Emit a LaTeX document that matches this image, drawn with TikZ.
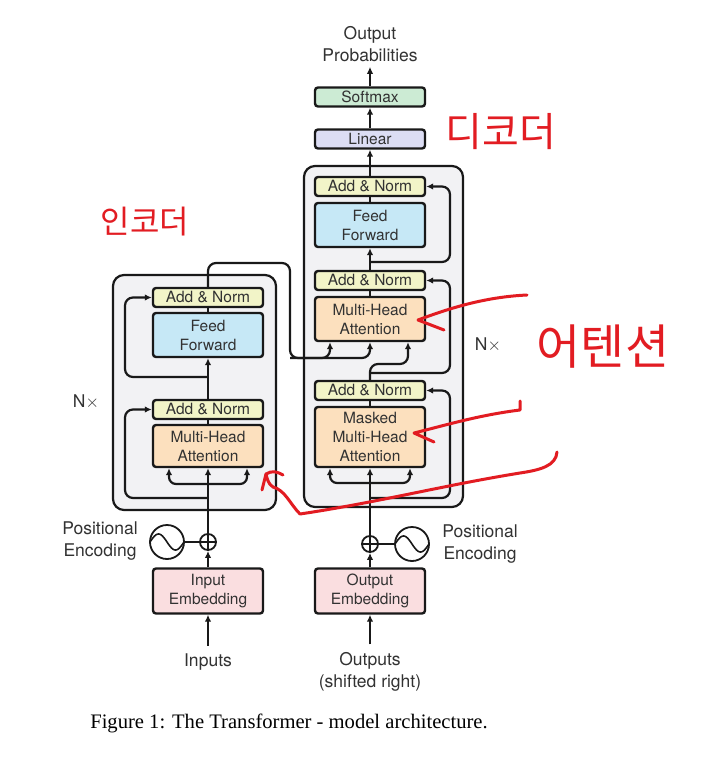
\documentclass[tikz,border=0pt]{standalone}
\usepackage{fontspec}
\setmainfont{Liberation Serif}
\setsansfont{TeX Gyre Heros}
\newfontfamily\kofont{Noto Sans CJK KR}
\usepackage{tikz}
\usetikzlibrary{
  arrows.meta,
  calc
}
\usepackage{xcolor}
\definecolor{cline}{RGB}{25,25,25}
\definecolor{ctext}{RGB}{50,50,50}
\definecolor{cred}{RGB}{226,28,34}
\definecolor{lnorm}{RGB}{242,244,200}
\definecolor{lff}{RGB}{198,232,246}
\definecolor{lattn}{RGB}{252,224,190}
\definecolor{lemb}{RGB}{250,222,224}
\definecolor{llin}{RGB}{220,221,244}
\definecolor{lsoft}{RGB}{204,235,212}
\definecolor{lstack}{RGB}{242,242,244}
\tikzset{
  block/.style={
    rectangle, rounded corners=3pt,
    draw=cline, line width=2.4pt,
    minimum width=110pt, minimum height=#1, inner sep=0pt,
    font=\fontsize{15.5}{19}\selectfont\sffamily, text=ctext, align=center
  },
  block/.default=19pt,
  norm/.style={block, fill=lnorm},
  ffwd/.style={block=44pt, fill=lff},
  attn/.style={block=#1, fill=lattn},
  attn/.default=43pt,
  embed/.style={block=45pt, fill=lemb},
  stack/.style={
    rectangle, rounded corners=11pt,
    fill=lstack, draw=cline, line width=2.2pt
  },
  label/.style={
    font=\fontsize{17.5}{22}\selectfont\sffamily, text=ctext, align=center,
    inner sep=2pt
  },
  addc/.style={circle, draw=cline, line width=1.8pt, minimum size=16pt, inner sep=0pt},
  sinc/.style={circle, draw=cline, line width=1.8pt, minimum size=34pt, inner sep=0pt},
  hand/.style={font=\kofont\fontsize{#1}{#1}\selectfont, text=cred, inner sep=0pt},
  redpen/.style={draw=cred, line width=3pt, line cap=round, line join=round},
  arr/.style={-{Latex[length=7pt,width=6.5pt]}, line width=2.2pt, draw=cline},
  con/.style={line width=2.2pt, draw=cline}
}

\begin{document}
\begin{tikzpicture}[x=1pt, y=-1pt]

    \useasboundingbox[fill=white] (0,0) rectangle (708,775);

    %% Stacks
    \node[stack, minimum width=163pt, minimum height=235pt] (estack) at (194.5,392.5) {};
    \node[stack, minimum width=159pt, minimum height=341pt] (dstack) at (383.5,336.5) {};

    %% Encoder
    \node[norm] (eadd2) at (208,297.5) {Add \& Norm};
    \node[ffwd]  (eff)  at (208,335)   {Feed\\Forward};
    \node[norm] (eadd1) at (208,409.5) {Add \& Norm};
    \node[attn=42pt] (emha) at (208,446) {Multi-Head\\Attention};
    \node[embed] (eemb) at (208,591) {Input\\Embedding};
    \node[addc] (eplus) at (208,542) {};
    \node[sinc] (esine) at (167,542) {};
    \node[label] (ein) at (208,662) {Inputs};
    \node[label] (epos) at (100,541) {Positional\\Encoding};
    \node[label] (enx) at (86,402) {N$\times$};

    %% Decoder
    \node[norm] (dadd3) at (370,186.5) {Add \& Norm};
    \node[ffwd]  (dff)  at (370,225)   {Feed\\Forward};
    \node[norm] (dadd2) at (370,280.5) {Add \& Norm};
    \node[attn=44pt] (dmha) at (370,319) {Multi-Head\\Attention};
    \node[norm] (dadd1) at (370,390.5) {Add \& Norm};
    \node[attn=60pt] (dmmha) at (370,437) {Masked\\Multi-Head\\Attention};
    \node[embed] (demb) at (370,591) {Output\\Embedding};
    \node[addc] (dplus) at (370,544) {};
    \node[sinc] (dsine) at (412,544) {};
    \node[label] (dout) at (370,672) {Outputs\\(shifted right)};
    \node[label] (dpos) at (480,544) {Positional\\Encoding};
    \node[label] (dnx) at (488,345) {N$\times$};

    %% Output head
    \node[block, fill=llin] (dlin) at (370,139) {Linear};
    \node[block, fill=lsoft] (dsoft) at (370,97) {Softmax};
    \node[label] (dprob) at (370,44) {Output\\Probabilities};

    %% Plus and sine marks
    \foreach \p in {eplus,dplus}{
      \draw[line width=1.8pt, draw=cline] (\p.north) -- (\p.south) (\p.west) -- (\p.east);
    }
    \foreach \s in {esine,dsine}{
      \draw[line width=1.6pt, draw=cline, shift={(\s.center)}]
        plot[domain=-17:17, samples=40, smooth] (\x,{8*sin(\x*180/17)});
    }
    \draw[con] (esine.east) -- (eplus.west);
    \draw[con] (dsine.west) -- (dplus.east);

    %% Junction points
    \coordinate (eleft) at (125,0);
    \coordinate (dright) at (450,0);
    \coordinate (esplit) at (208,484);
    \coordinate (eres1) at (208,498);
    \coordinate (eres2) at (208,377);
    \coordinate (dsplit) at (370,483);
    \coordinate (dres1) at (370,498);
    \coordinate (dres2) at (370,373);
    \coordinate (dres3) at (370,262);
    \coordinate (dq) at (370,364);
    \coordinate (xbend) at (290,263);
    \coordinate (xkv) at (290,358);

    %% Encoder connectors
    \draw[arr, shorten <=6pt] (ein.north) -- (eemb.south);
    \draw[arr] (eemb.north) -- (eplus.south);
    \draw[arr] (eplus.north) -- (emha.south);
    \draw[arr, rounded corners=7pt] (esplit) -- (esplit -| {$(emha.south)+(-39,0)$}) -- ([xshift=-39pt]emha.south);
    \draw[arr, rounded corners=7pt] (esplit) -- (esplit -| {$(emha.south)+(39,0)$}) -- ([xshift=39pt]emha.south);
    \draw[arr, rounded corners=8pt] (eres1) -- (eres1 -| eleft) -- (eleft |- eadd1.west) -- (eadd1.west);
    \draw[con] (emha.north) -- (eadd1.south);
    \draw[arr] (eadd1.north) -- (eff.south);
    \draw[arr, rounded corners=8pt] (eres2) -- (eres2 -| eleft) -- (eleft |- eadd2.west) -- (eadd2.west);
    \draw[con] (eff.north) -- (eadd2.south);

    %% Encoder to decoder
    \draw[arr, rounded corners=8pt] (eadd2.north) |- (xbend) -- (xkv) -| ([xshift=-40pt]dmha.south);
    \draw[arr, rounded corners=8pt] (xkv) -| (dmha.south);

    %% Decoder connectors
    \draw[arr, shorten <=6pt] (dout.north) -- (demb.south);
    \draw[arr] (demb.north) -- (dplus.south);
    \draw[arr] (dplus.north) -- (dmmha.south);
    \draw[arr, rounded corners=7pt] (dsplit) -- (dsplit -| {$(dmmha.south)+(-40,0)$}) -- ([xshift=-40pt]dmmha.south);
    \draw[arr, rounded corners=7pt] (dsplit) -- (dsplit -| {$(dmmha.south)+(40,0)$}) -- ([xshift=40pt]dmmha.south);
    \draw[arr, rounded corners=8pt] (dres1) -- (dres1 -| dright) -- (dright |- dadd1.east) -- (dadd1.east);
    \draw[con] (dmmha.north) -- (dadd1.south);
    \draw[arr, rounded corners=8pt] (dadd1.north) -- (dq) -| ([xshift=38pt]dmha.south);
    \draw[arr, rounded corners=8pt] (dres2) -- (dres2 -| dright) -- (dright |- dadd2.east) -- (dadd2.east);
    \draw[con] (dmha.north) -- (dadd2.south);
    \draw[arr] (dadd2.north) -- (dff.south);
    \draw[arr, rounded corners=8pt] (dres3) -- (dres3 -| dright) -- (dright |- dadd3.east) -- (dadd3.east);
    \draw[con] (dff.north) -- (dadd3.south);
    \draw[arr] (dadd3.north) -- (dlin.south);
    \draw[arr] (dlin.north) -- (dsoft.south);
    \draw[arr, shorten >=3pt] (dsoft.north) -- (dprob.south);

    %% Caption
    \node[font=\fontsize{20.6}{24}\selectfont, text=black] (cap) at (289,723)
      {Figure 1: The Transformer - model architecture.};

    %% Red notes
    \node[hand=32] (kenc) at (145,222) {인코더};
    \node[hand=40] (kdec) at (501,132) {디코더};
    \node[hand=48] (katt) at (603,347) {어텐션};
    \draw[redpen] (527,295) .. controls (485,297) and (450,308) .. (418,320) -- (444,330);
    \draw[redpen] (520,401) -- (520,410) .. controls (480,415) and (450,424) .. (414,433) -- (434,442);
    \draw[redpen] (557,452) .. controls (556,466) and (540,470) .. (520,473)
      .. controls (440,486) and (380,502) .. (300,514)
      .. controls (290,504) and (285,490) .. (273,487)
      .. controls (268,484) and (267,478) .. (266,474);
    \draw[redpen] (262,490) -- (266,474) .. controls (272,470) and (278,472) .. (283,475);

  \end{tikzpicture}
\end{document}
